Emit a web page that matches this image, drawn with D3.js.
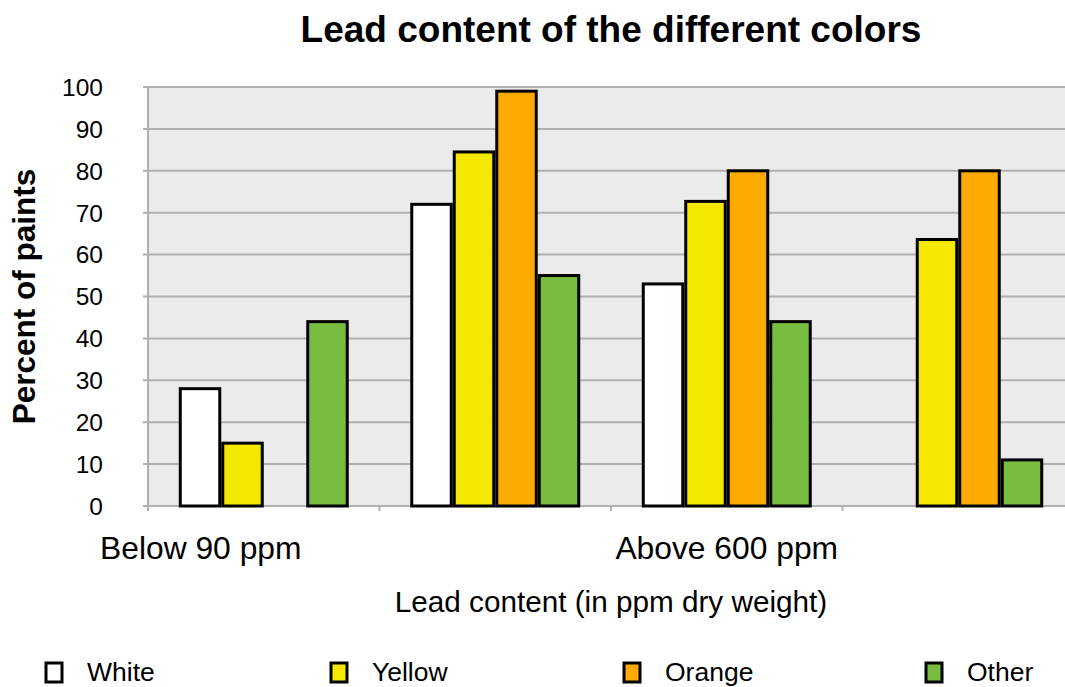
<!DOCTYPE html>
<html><head><meta charset="utf-8">
<script src="https://cdn.jsdelivr.net/npm/d3@7"></script>
<style>body{margin:0;background:#fff;}svg{display:block;font-family:"Liberation Sans",Arial,sans-serif;}</style>
</head><body><svg id="c" width="1065" height="687"></svg>
<script>
const categories = ["Below 90 ppm", "Above 90 ppm", "Above 600 ppm", "Above 10,000 ppm"];
const shownLabels = ["Below 90 ppm", "Above 600 ppm"];
const seriesNames = ["White", "Yellow", "Orange", "Other"];
const seriesColors = ["#ffffff", "#f5e800", "#ffaa00", "#78bc40"];
const white  = [28, 72, 53, 0];
const yellow = [15, 84.5, 72.7, 63.6];
const orange = [0, 99, 80, 80];
const other  = [44, 55, 44, 11];
const yTicks = [0,10,20,30,40,50,60,70,80,90,100];
const series = [white, yellow, orange, other];

const svg = d3.select("#c");
const L = 148, R = 1074, T = 87, B = 506;
const x0 = d3.scaleBand().domain(categories).range([L, R]).paddingInner(0).paddingOuter(0);
const x1 = d3.scaleBand().domain(seriesNames).range([0, x0.bandwidth()]).paddingOuter(0.724).paddingInner(0);
const y = d3.scaleLinear().domain([0, 100]).range([B, T]);

svg.append("rect").attr("x", L).attr("y", T).attr("width", R - L).attr("height", B - T).attr("fill", "#ebebeb");

svg.append("g").selectAll("line").data(yTicks).join("line")
  .attr("x1", L - 5).attr("x2", R).attr("y1", d => y(d)).attr("y2", d => y(d))
  .attr("stroke", "#b0b0b0").attr("stroke-width", 2);
svg.append("line").attr("x1", L).attr("x2", L).attr("y1", T).attr("y2", B + 5)
  .attr("stroke", "#b0b0b0").attr("stroke-width", 2);
svg.append("g").selectAll("line").data(categories.slice(1)).join("line")
  .attr("x1", d => x0(d)).attr("x2", d => x0(d)).attr("y1", B).attr("y2", B + 5)
  .attr("stroke", "#b0b0b0").attr("stroke-width", 2);

svg.append("g").selectAll("text").data(yTicks).join("text")
  .attr("x", 103).attr("y", d => y(d)).attr("dy", "0.36em")
  .attr("text-anchor", "end").attr("font-size", 24.5).attr("fill", "#000").text(d => d);

const bars = [];
categories.forEach((c, ci) => series.forEach((s, si) => bars.push({c, name: seriesNames[si], v: s[ci], color: seriesColors[si]})));
svg.append("g").selectAll("rect").data(bars.filter(d => d.v > 0)).join("rect")
  .attr("x", d => x0(d.c) + x1(d.name) + 1.5)
  .attr("width", x1.bandwidth() - 3)
  .attr("y", d => y(d.v))
  .attr("height", d => B - y(d.v))
  .attr("fill", d => d.color).attr("stroke", "#000").attr("stroke-width", 3);

svg.append("g").selectAll("text").data(shownLabels).join("text")
  .attr("x", (d, i) => i === 0 ? 100 : x0(d) + x0.bandwidth() / 2)
  .attr("text-anchor", (d, i) => i === 0 ? "start" : "middle")
  .attr("y", 559).attr("font-size", 31.8).text(d => d);

svg.append("text").attr("x", (L + R) / 2).attr("y", 42).attr("text-anchor", "middle")
  .attr("font-size", 37).attr("font-weight", "bold").text("Lead content of the different colors");
svg.append("text").attr("x", (L + R) / 2).attr("y", 612).attr("text-anchor", "middle")
  .attr("font-size", 29.7).text("Lead content (in ppm dry weight)");
svg.append("text").attr("transform", `translate(35,${(T + B) / 2}) rotate(-90)`).attr("text-anchor", "middle")
  .attr("font-size", 31.5).attr("font-weight", "bold").text("Percent of paints");

const lg = svg.append("g").selectAll("g").data(seriesNames).join("g")
  .attr("transform", (d, i) => `translate(${[46, 331, 624, 926][i]},0)`);
lg.append("rect").attr("x", 0).attr("y", 663).attr("width", 16).attr("height", 19)
  .attr("fill", (d, i) => seriesColors[i]).attr("stroke", "#000").attr("stroke-width", 3);
lg.append("text").attr("x", 41).attr("y", 681).attr("font-size", 26.5).text(d => d);
</script></body></html>
